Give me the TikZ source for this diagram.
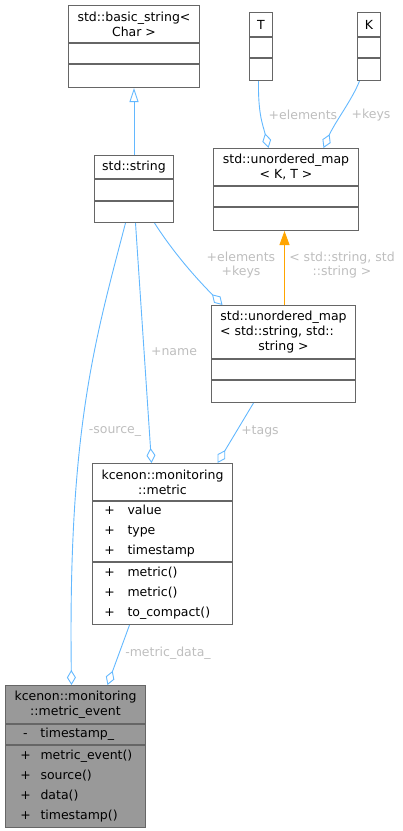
\documentclass[tikz,border=0pt]{standalone}
\usepackage{fontspec}
\setmainfont{DejaVu Sans}
\usetikzlibrary{arrows.meta,positioning}
\definecolor{edgeblue}{HTML}{63B8FF}
\definecolor{boxgray}{HTML}{666666}
\definecolor{lblgray}{HTML}{BEBEBE}
\definecolor{mainfill}{HTML}{999999}
\definecolor{tmplorange}{HTML}{FFA500}
\newcommand{\mem}[3][13pt]{\mbox{\makebox[10pt][c]{#2}\hspace{#1}#3}}

\begin{document}
\begin{tikzpicture}[x=1pt,y=-1pt,
    hd/.style={draw=boxgray,line width=1pt,fill=white,font=\fontsize{12.5}{14.7}\selectfont,align=center,inner sep=0pt,anchor=north west},
    cmp/.style={draw=boxgray,line width=1pt,fill=white,font=\fontsize{12.5}{20}\selectfont,align=left,inner sep=0pt,below=0pt of #1},
    assoc/.style={draw=edgeblue,line width=0.9pt,-{Diamond[open,length=15pt,width=9pt]}},
    inh/.style={draw=edgeblue,line width=0.9pt,-{Triangle[open,length=14pt,width=9pt]}},
    tmpl/.style={draw=tmplorange,line width=0.9pt,-{Triangle[length=14pt,width=10pt]}},
    lbl/.style={font=\fontsize{12.5}{14.7}\selectfont,text=lblgray,align=center,inner sep=0pt}
    ]
\useasboundingbox (0,0) rectangle (403,831);

    % classes
    \node[hd,minimum width=131,minimum height=37] (bstr) at (68,5) {std::basic\_string<\\Char >};
    \node[cmp=bstr,minimum width=131,minimum height=20] (bstrA) {};
    \node[cmp=bstrA,minimum width=131,minimum height=23] (bstrM) {};

    \node[hd,minimum width=23,minimum height=24] (parT) at (249,12) {T};
    \node[cmp=parT,minimum width=23,minimum height=20] (parTA) {};
    \node[cmp=parTA,minimum width=23,minimum height=22] (parTM) {};

    \node[hd,minimum width=23,minimum height=24] (parK) at (357,12) {K};
    \node[cmp=parK,minimum width=23,minimum height=20] (parKA) {};
    \node[cmp=parKA,minimum width=23,minimum height=22] (parKM) {};

    \node[hd,minimum width=79,minimum height=23] (str) at (94,155) {std::string};
    \node[cmp=str,minimum width=79,minimum height=21] (strA) {};
    \node[cmp=strA,minimum width=79,minimum height=21] (strM) {};

    \node[hd,minimum width=145,minimum height=37] (umap) at (213,148) {std::unordered\_map\\< K, T >};
    \node[cmp=umap,minimum width=145,minimum height=20] (umapA) {};
    \node[cmp=umapA,minimum width=145,minimum height=23] (umapM) {};

    \node[hd,minimum width=144,minimum height=53] (umss) at (211,305) {std::unordered\_map\\< std::string, std::\rule{13pt}{0pt}\\string >};
    \node[cmp=umss,minimum width=144,minimum height=20] (umssA) {};
    \node[cmp=umssA,minimum width=144,minimum height=22] (umssM) {};

    \node[hd,minimum width=140,minimum height=37] (metric) at (92,463) {kcenon::monitoring\\::metric};
    \node[cmp=metric,minimum height=60,inner xsep=12pt,text width=116pt] (metricA) {\mem{+}{value}\\\mem{+}{type}\\\mem{+}{timestamp}};
    \node[cmp=metricA,minimum height=62,inner xsep=12pt,text width=116pt] (metricM) {\mem{+}{metric()}\\\mem{+}{metric()}\\\mem{+}{to\_compact()}};

    \node[hd,fill=mainfill,minimum width=140,minimum height=38] (event) at (5,685) {kcenon::monitoring\\::metric\_event};
    \node[cmp=event,fill=mainfill,minimum height=20,inner xsep=15pt,text width=110pt] (eventA) {\mem[10pt]{-}{timestamp\_}};
    \node[cmp=eventA,fill=mainfill,minimum height=82,inner xsep=15pt,text width=110pt] (eventM) {\mem[10pt]{+}{metric\_event()}\\\mem[10pt]{+}{source()}\\\mem[10pt]{+}{data()}\\\mem[10pt]{+}{timestamp()}};

    % relations
    \path (str.north) edge[inh] (bstrM.south);
    \draw[assoc] ([xshift=-2.5]parTM.south) .. controls (258,115) and (263,125) .. ([xshift=-17.5]umap.north);
    \draw[assoc] ([xshift=-9.5]parKM.south) .. controls (352,100) and (335,122) .. ([xshift=37.5]umap.north);
    \draw[assoc] ([xshift=20.5]strM.south) .. controls (175,255) and (198,280) .. ([xshift=-61]umss.north);
    \path ([xshift=1]umss.north) edge[tmpl] ([xshift=-1.5]umapM.south);
    \path ([xshift=1.5]strM.south) edge[assoc] ([xshift=-11]metric.north);
    \draw[assoc] ([xshift=-8.5]strM.south) .. controls (95,340) and (68,430) .. ([xshift=-4]event.north);
    \path ([xshift=-30]umssM.south) edge[assoc] ([xshift=55]metric.north);
    \path ([xshift=-33]metricM.south) edge[assoc] ([xshift=32]event.north);

    % labels
    \node[lbl] (lelemT) at (303,115) {+elements};
    \node[lbl] (lkeysK) at (371,115) {+keys};
    \node[lbl] (lelemkeys) at (241,265) {+elements\\+keys};
    \node[lbl] (ltmpl) at (342,265) {< std::string, std\\::string >};
    \node[lbl] (lname) at (174,352) {+name};
    \node[lbl] (lsource) at (115,431) {-source\_};
    \node[lbl] (ltags) at (260,431) {+tags};
    \node[lbl] (ldata) at (168,653) {-metric\_data\_};
\end{tikzpicture}
\end{document}
